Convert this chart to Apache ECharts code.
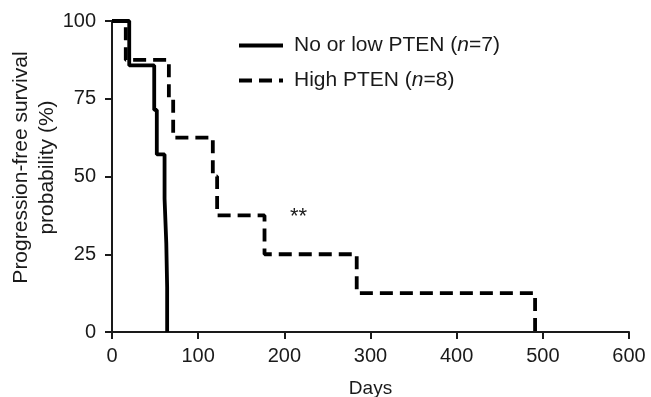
<!DOCTYPE html>
<html>
<head>
<meta charset="utf-8">
<script src="https://cdn.jsdelivr.net/npm/echarts@6/dist/echarts.min.js"></script>
<style>
  html, body { margin: 0; padding: 0; background: #fff; }
  #main { width: 651px; height: 397px; }
</style>
</head>
<body>
<div id="main"></div>
<script>
// Kaplan-Meier steps: [day, survival %]
const lowPten = [[0, 100], [20, 85.7], [49, 71.4], [52, 57.1], [61, 42.9], [63, 28.6], [64, 14.3], [64, 0]];
const highPten = [[0, 100], [16, 87.5], [66, 75], [71, 62.5], [117, 50], [122, 37.5], [177, 25], [284, 12.5], [491, 0]];
const seriesNames = ['No or low PTEN', 'High PTEN'];
const seriesN = [7, 8];

const font = 'Liberation Sans, Arial, Helvetica, sans-serif';
const ink = '#1a1a1a';

const option = {
  backgroundColor: '#fff',
  animation: false,
  textStyle: { fontFamily: font },
  grid: { left: 112, right: 22, top: 21, bottom: 65, outerBoundsMode: 'none' },
  legend: {
    left: 232,
    top: 30,
    orient: 'vertical',
    itemGap: 14,
    itemWidth: 44,
    itemHeight: 12,
    lineStyle: { width: 4 },
    itemStyle: { opacity: 0 },
    data: seriesNames,
    formatter: function (name) {
      const n = seriesN[seriesNames.indexOf(name)];
      return '{a|' + name + ' (}{i|n}{a|=' + n + ')}';
    },
    textStyle: {
      color: ink,
      fontSize: 21,
      padding: [0, 0, 0, 6],
      rich: {
        a: { fontSize: 21, color: ink, fontFamily: font },
        i: { fontSize: 21, color: ink, fontFamily: font, fontStyle: 'italic' }
      }
    }
  },
  xAxis: {
    type: 'value',
    min: 0, max: 600, interval: 100,
    name: 'Days',
    nameLocation: 'middle',
    nameGap: 47,
    nameMoveOverlap: false,
    nameTextStyle: { fontSize: 19, color: ink },
    axisLine: { show: true, onZero: false, lineStyle: { color: ink, width: 2 } },
    axisTick: { show: true, length: 7, lineStyle: { color: ink, width: 2 } },
    axisLabel: { fontSize: 20, color: ink, margin: 14 },
    splitLine: { show: false }
  },
  yAxis: {
    type: 'value',
    min: 0, max: 100, interval: 25,
    name: 'Progression-free survival\nprobability (%)',
    nameLocation: 'middle',
    nameGap: 52,
    nameMoveOverlap: false,
    nameTextStyle: { fontSize: 21, color: ink, lineHeight: 26, padding: [0, 0, 0, 18] },
    axisLine: { show: true, onZero: false, lineStyle: { color: ink, width: 2 } },
    axisTick: { show: true, length: 7, lineStyle: { color: ink, width: 2 } },
    axisLabel: { fontSize: 20, color: ink, margin: 16 },
    splitLine: { show: false }
  },
  graphic: [
    {
      type: 'text',
      left: 290,
      top: 206,
      style: { text: '**', font: '22px ' + font, fill: ink }
    }
  ],
  series: [
    {
      name: seriesNames[0],
      type: 'line',
      step: 'end',
      symbol: 'none',
      data: lowPten,
      lineStyle: { color: '#000', width: 3.8 },
      itemStyle: { color: '#000' },
      z: 3
    },
    {
      name: seriesNames[1],
      type: 'line',
      step: 'end',
      symbol: 'none',
      data: highPten,
      lineStyle: { color: '#000', width: 3.8, type: [13, 7] },
      itemStyle: { color: '#000' },
      z: 2
    }
  ]
};

const chart = echarts.init(document.getElementById('main'), null, { renderer: 'canvas' });
chart.setOption(option);
window.addEventListener('resize', function () { chart.resize(); });
</script>
</body>
</html>
